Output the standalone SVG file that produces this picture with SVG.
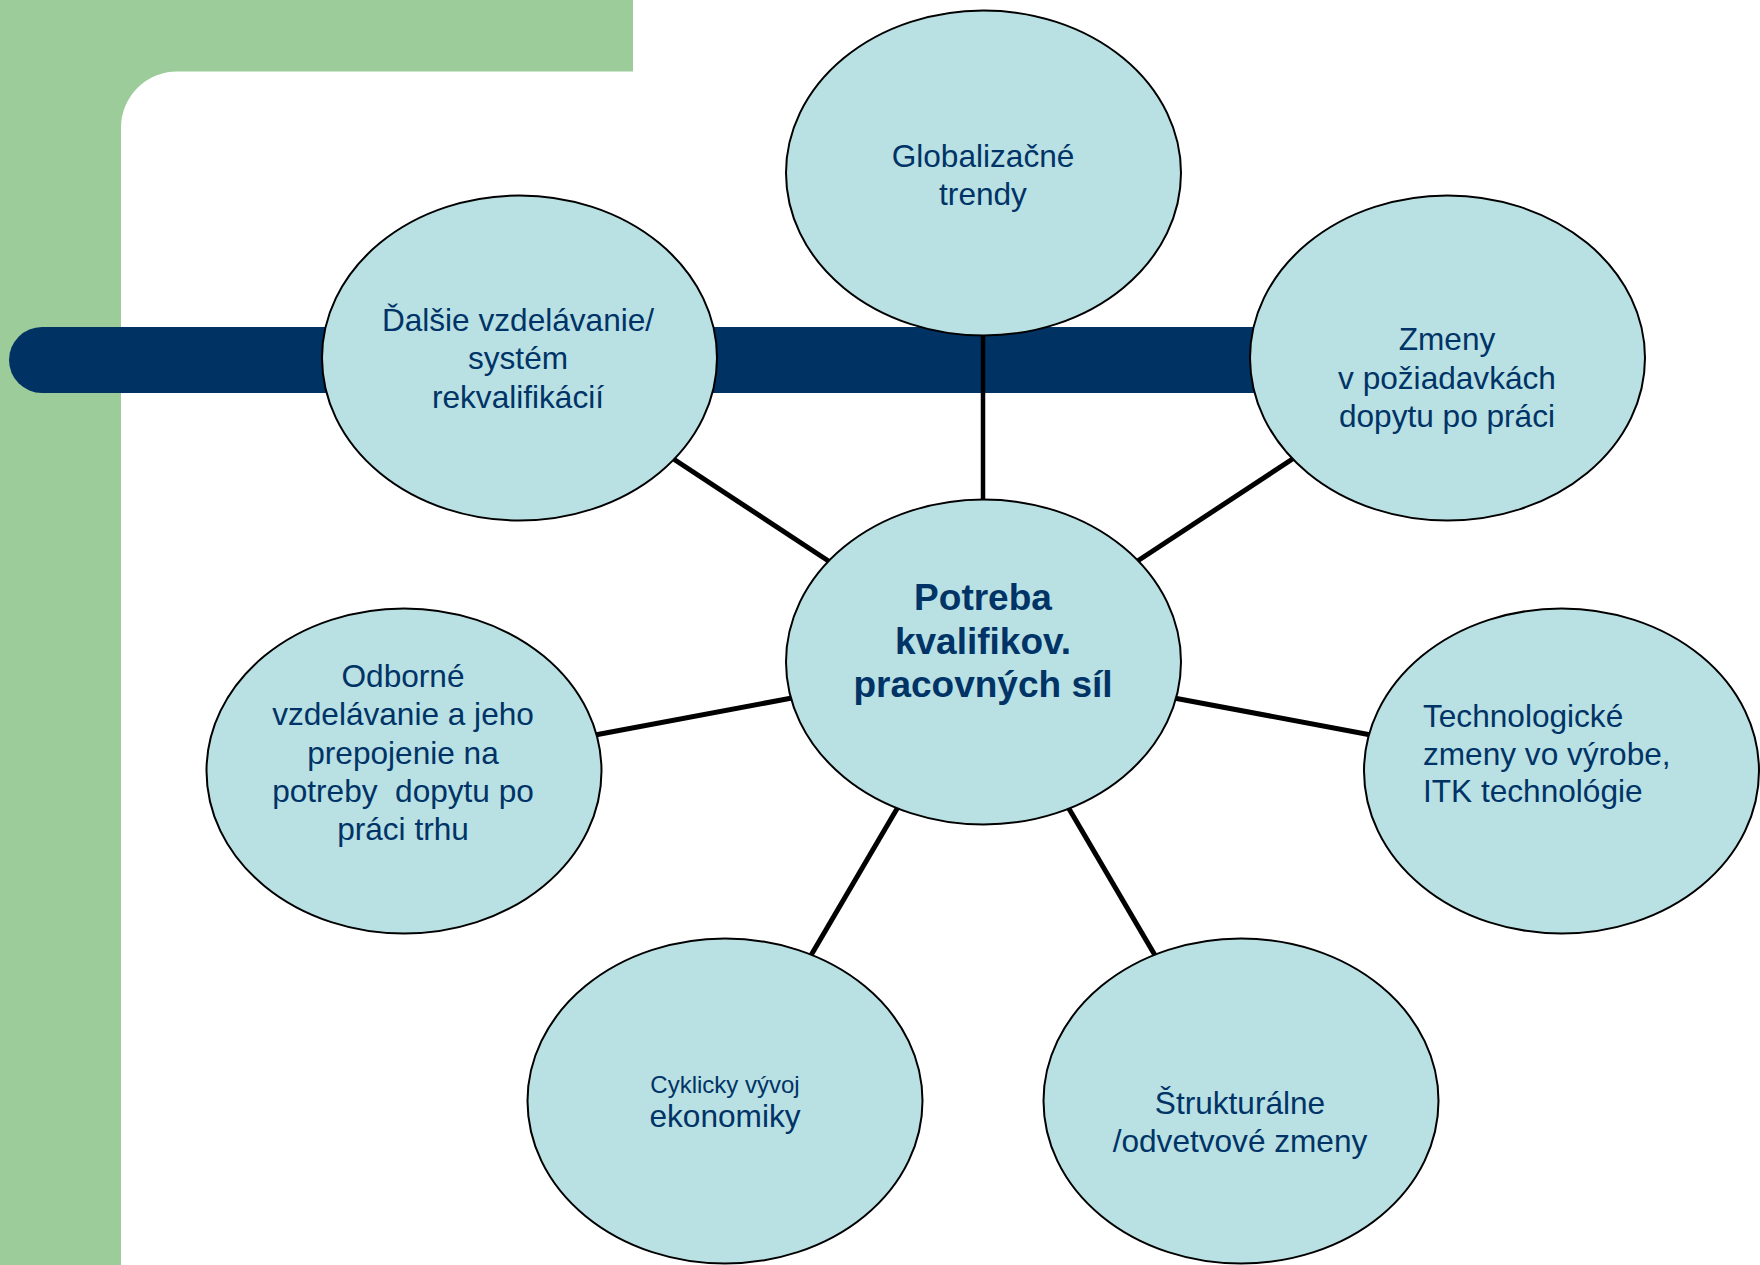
<svg xmlns="http://www.w3.org/2000/svg" width="1760" height="1265" viewBox="0 0 1760 1265">
<style>
.node ellipse{fill:#B9E0E3;stroke:#000;stroke-width:2}
.t{font-family:"Liberation Sans",Arial,sans-serif;font-size:31.6px;fill:#003366;text-anchor:middle}
.b{font-weight:bold;font-size:37px}
.conn line{stroke:#000;stroke-width:5}
</style>
<rect width="1760" height="1265" fill="#fff"/>
<g id="background">
<path d="M0,0 H633 V71.5 H177 A56,56 0 0 0 121,127.5 V1265 H0 Z" fill="#9BCC9A"/>
<path d="M42,327 H1400 V393 H42 A33,33 0 0 1 42,327 Z" fill="#003263"/>
</g>
<g id="connectors" class="conn">
<line x1="983" y1="334" x2="983" y2="501" style="stroke-width:4.5"/>
<line x1="672" y1="458" x2="830" y2="562"/>
<line x1="1294" y1="458" x2="1136" y2="562"/>
<line x1="595" y1="735" x2="792" y2="698"/>
<line x1="1371" y1="735" x2="1174" y2="698"/>
<line x1="810" y1="957" x2="898" y2="807"/>
<line x1="1156" y1="957" x2="1068" y2="807"/>
</g>
<g id="node-globalizacne" class="node">
<ellipse cx="983.5" cy="173" rx="197.5" ry="162.5"/>
<text class="t" x="983" y="167">Globalizačné</text>
<text class="t" x="983" y="205">trendy</text>
</g>
<g id="node-zmeny" class="node">
<ellipse cx="1447.5" cy="358" rx="197.5" ry="162.5"/>
<text class="t" x="1447" y="350">Zmeny</text>
<text class="t" x="1447" y="388.5">v požiadavkách</text>
<text class="t" x="1447" y="427">dopytu po práci</text>
</g>
<g id="node-dalsie" class="node">
<ellipse cx="519.5" cy="358" rx="197.5" ry="162.5"/>
<text class="t" x="518" y="331">Ďalšie vzdelávanie/</text>
<text class="t" x="518" y="369">systém</text>
<text class="t" x="518" y="407.5">rekvalifikácií</text>
</g>
<g id="node-center" class="node">
<ellipse cx="983.5" cy="662" rx="197.5" ry="162.5"/>
<text class="t b" x="983" y="610">Potreba</text>
<text class="t b" x="983" y="654">kvalifikov.</text>
<text class="t b" x="983" y="697">pracovných síl</text>
</g>
<g id="node-odborne" class="node">
<ellipse cx="404" cy="771" rx="197.5" ry="162.5"/>
<text class="t" x="403" y="687">Odborné</text>
<text class="t" x="403" y="725">vzdelávanie a jeho</text>
<text class="t" x="403" y="764">prepojenie na</text>
<text class="t" x="403" y="802" xml:space="preserve">potreby  dopytu po</text>
<text class="t" x="403" y="840">práci trhu</text>
</g>
<g id="node-technologicke" class="node">
<ellipse cx="1561.5" cy="771" rx="197.5" ry="162.5"/>
<text class="t" x="1423" y="727" style="text-anchor:start">Technologické</text>
<text class="t" x="1423" y="764.5" style="text-anchor:start">zmeny vo výrobe,</text>
<text class="t" x="1423" y="802" style="text-anchor:start">ITK technológie</text>
</g>
<g id="node-cyklicky" class="node">
<ellipse cx="725" cy="1101" rx="197.5" ry="162.5"/>
<text class="t" x="725" y="1093" style="font-size:24px">Cyklicky vývoj</text>
<text class="t" x="725" y="1127">ekonomiky</text>
</g>
<g id="node-strukturalne" class="node">
<ellipse cx="1241" cy="1101" rx="197.5" ry="162.5"/>
<text class="t" x="1240" y="1114">Štrukturálne</text>
<text class="t" x="1240" y="1152">/odvetvové zmeny</text>
</g>
</svg>
